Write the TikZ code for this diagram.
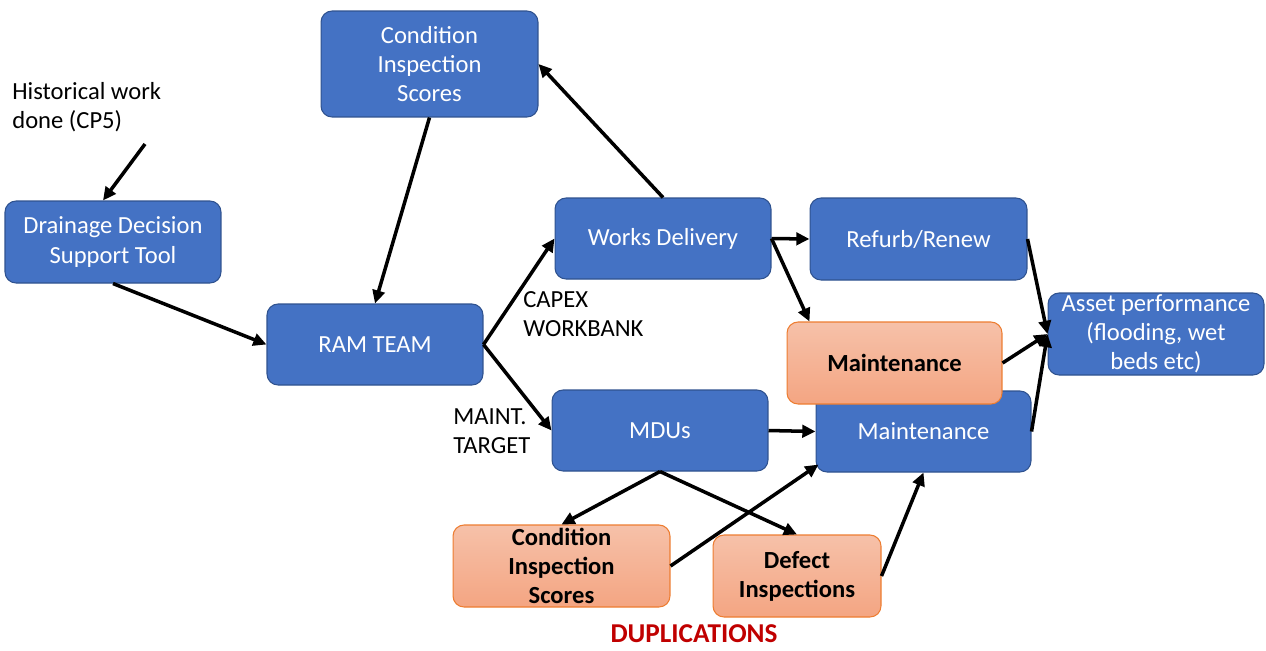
\documentclass[tikz,border=0pt]{standalone}
\usepackage{fontspec}
\setmainfont{Carlito}
\usetikzlibrary{arrows.meta,calc}
\definecolor{bluefill}{HTML}{4472C4}
\definecolor{blueline}{HTML}{2F528F}
\definecolor{orgtop}{HTML}{F6C1A9}
\definecolor{orgbot}{HTML}{F4A582}
\definecolor{orgline}{HTML}{ED7D31}
\definecolor{dupred}{HTML}{C00000}
\tikzset{
  bluebox/.style={rectangle, rounded corners=0.22cm, fill=bluefill, draw=blueline, line width=0.6pt,
    text=white, align=center, inner sep=0pt, font=\fontsize{14}{16.6}\selectfont},
  orangebox/.style={rectangle, rounded corners=0.22cm, top color=orgtop, bottom color=orgbot, draw=orgline, line width=0.6pt,
    text=black, align=center, inner sep=0pt, font=\fontsize{14}{16.6}\selectfont\bfseries},
  plain/.style={align=left, inner sep=0pt, font=\fontsize{14}{16.6}\selectfont},
  conn/.style={line width=2pt, -{Triangle[length=7.5pt,width=7pt]}},
}
\begin{document}
\begin{tikzpicture}[x=0.02cm,y=-0.02cm]
\useasboundingbox (0,0) rectangle (1266,650);
% nodes
\node[bluebox, minimum width=4.34cm, minimum height=2.12cm] (cis) at (429.5,64) {Condition\\Inspection\\Scores};
\node[bluebox, minimum width=4.32cm, minimum height=1.64cm] (ddst) at (113,242) {Drainage Decision\\Support Tool};
\node[bluebox, minimum width=4.32cm, minimum height=1.62cm] (ram) at (375,344.5) {RAM TEAM};
\node[bluebox, minimum width=4.32cm, minimum height=1.62cm] (works) at (663,238.5) {Works Delivery};
\node[bluebox, minimum width=4.34cm, minimum height=1.64cm] (refurb) at (918.5,239) {Refurb/Renew};
\node[bluebox, minimum width=4.32cm, minimum height=1.64cm] (asset) at (1156,334) {Asset performance\\(flooding, wet\\beds etc)};
\node[bluebox, minimum width=4.32cm, minimum height=1.62cm] (mdus) at (660,430.5) {MDUs};
\node[bluebox, minimum width=4.30cm, minimum height=1.62cm] (mblue) at (923.5,431.5) {Maintenance};
\node[orangebox, minimum width=4.30cm, minimum height=1.64cm] (morange) at (894.5,363) {Maintenance};
\node[orangebox, minimum width=4.34cm, minimum height=1.64cm] (cisb) at (561.5,566) {Condition\\Inspection\\Scores};
\node[orangebox, minimum width=3.36cm, minimum height=1.64cm] (defect) at (797,576) {Defect\\Inspections};
\node[plain, anchor=west] (hist) at (12,107) {Historical work\\done (CP5)};
\node[plain, anchor=west] (capex) at (523,314) {CAPEX\\WORKBANK};
\node[plain, anchor=west] (maint) at (453,431) {MAINT.\\TARGET};
\node[font=\fontsize{15.5}{18}\selectfont\bfseries, text=dupred, inner sep=0pt] (dup) at (694,634) {DUPLICATIONS};
\coordinate (hstart) at (145,144);
% connectors
\draw[conn] (hstart) -- ([xshift=-0.2cm]ddst.north);
\draw[conn] (ddst.south) -- (ram.west);
\draw[conn] (cis.south) -- (ram.north);
\draw[conn] (works.north) -- (cis.east);
\draw[conn] (ram.east) -- (works.west);
\draw[conn] (ram.east) -- (mdus.west);
\draw[conn] (works.east) -- (refurb.west);
\draw[conn] (works.east) -- ([xshift=0.46cm]morange.north west);
\draw[conn] (refurb.east) -- (asset.west);
\draw[conn] (morange.east) -- (asset.west);
\draw[conn] (mblue.east) -- (asset.west);
\draw[conn] (mdus.east) -- (mblue.west);
\draw[conn] (mdus.south) -- (cisb.north);
\draw[conn] (mdus.south) -- (defect.north);
\draw[conn] (cisb.east) -- ([shift={(0.06cm,0.16cm)}]mblue.south west);
\draw[conn] (defect.east) -- (mblue.south);
\end{tikzpicture}
\end{document}
